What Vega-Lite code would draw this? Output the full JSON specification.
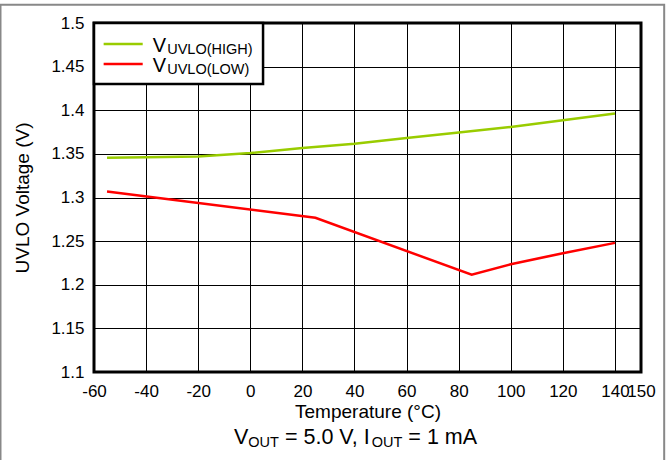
{
  "$schema": "https://vega.github.io/schema/vega-lite/v6.json",
  "width": 547,
  "height": 349,
  "autosize": {"type": "none"},
  "padding": {"left": 94, "top": 23, "right": 25, "bottom": 88},
  "background": "white",
  "config": {
    "view": {"stroke": "black", "strokeWidth": 3},
    "font": "Liberation Sans",
    "text": {"font": "Liberation Sans", "color": "black"}
  },
  "data": {
    "values": [
      {"series": "high", "t": -55, "v": 1.3456},
      {"series": "high", "t": -40, "v": 1.3462},
      {"series": "high", "t": -20, "v": 1.3471},
      {"series": "high", "t": 0, "v": 1.3509},
      {"series": "high", "t": 20, "v": 1.3567},
      {"series": "high", "t": 40, "v": 1.3617},
      {"series": "high", "t": 60, "v": 1.3682},
      {"series": "high", "t": 80, "v": 1.3744},
      {"series": "high", "t": 100, "v": 1.3808},
      {"series": "high", "t": 120, "v": 1.3885},
      {"series": "high", "t": 140, "v": 1.3962},
      {"series": "low", "t": -55, "v": 1.3069},
      {"series": "low", "t": 25, "v": 1.2767},
      {"series": "low", "t": 85, "v": 1.2115},
      {"series": "low", "t": 100, "v": 1.2235},
      {"series": "low", "t": 120, "v": 1.2362},
      {"series": "low", "t": 140, "v": 1.248}
    ]
  },
  "layer": [
    {
      "mark": {"type": "line", "strokeWidth": 2.5, "clip": false},
      "encoding": {
        "x": {
          "field": "t", "type": "quantitative",
          "scale": {"domain": [-60, 150], "nice": false, "zero": false},
          "axis": {
            "values": [-60, -40, -20, 0, 20, 40, 60, 80, 100, 120, 140, 150],
            "labelExpr": "toString(datum.value)",
            "grid": true, "gridColor": "#000", "gridWidth": 1, "gridOpacity": 1,
            "ticks": false, "domain": false,
            "labelFont": "Liberation Sans", "labelFontSize": 17, "labelColor": "black",
            "labelPadding": 11, "labelOverlap": false, "labelFlush": false,
            "title": "Temperature (°C)", "titleFont": "Liberation Sans", "titleFontSize": 19,
            "titleFontWeight": "normal", "titleColor": "black", "titlePadding": 3
          }
        },
        "y": {
          "field": "v", "type": "quantitative",
          "scale": {"domain": [1.1, 1.5], "nice": false, "zero": false},
          "axis": {
            "values": [1.1, 1.15, 1.2, 1.25, 1.3, 1.35, 1.4, 1.45, 1.5],
            "labelExpr": "toString(datum.value)",
            "grid": true, "gridColor": "#000", "gridWidth": 1, "gridOpacity": 1,
            "ticks": false, "domain": false,
            "labelFont": "Liberation Sans", "labelFontSize": 17, "labelColor": "black",
            "labelPadding": 10, "labelFlush": false,
            "title": "UVLO Voltage (V)", "titleFont": "Liberation Sans", "titleFontSize": 19,
            "titleFontWeight": "normal", "titleColor": "black", "titlePadding": 18
          }
        },
        "color": {
          "field": "series", "type": "nominal",
          "scale": {"domain": ["high", "low"], "range": ["#99CC00", "#FF0000"]},
          "legend": null
        }
      }
    },
    {
      "data": {"values": [{}]},
      "mark": {"type": "rect", "fill": null, "fillOpacity": 0, "stroke": "#888", "strokeWidth": 2, "clip": false},
      "encoding": {
        "x": {"datum": -95.9, "type": "quantitative"},
        "x2": {"datum": 158.9},
        "y": {"datum": 1.521, "type": "quantitative"},
        "y2": {"datum": 0.97}
      }
    },
    {
      "data": {"values": [{}]},
      "mark": {"type": "rect", "fill": "white", "stroke": "black", "strokeWidth": 2.5},
      "encoding": {
        "x": {"datum": -60, "type": "quantitative"},
        "x2": {"datum": 4.9},
        "y": {"datum": 1.5, "type": "quantitative"},
        "y2": {"datum": 1.43}
      }
    },
    {
      "data": {"values": [{}]},
      "mark": {"type": "rule", "stroke": "#99CC00", "strokeWidth": 2.5},
      "encoding": {
        "x": {"datum": -56.3, "type": "quantitative"},
        "x2": {"datum": -41.3},
        "y": {"datum": 1.4759, "type": "quantitative"}
      }
    },
    {
      "data": {"values": [{}]},
      "mark": {"type": "rule", "stroke": "#FF0000", "strokeWidth": 2.5},
      "encoding": {
        "x": {"datum": -56.3, "type": "quantitative"},
        "x2": {"datum": -41.3},
        "y": {"datum": 1.4529, "type": "quantitative"}
      }
    },
    {
      "data": {"values": [{}]},
      "mark": {"type": "text", "text": "V", "fontSize": 20, "align": "left", "baseline": "alphabetic"},
      "encoding": {"x": {"datum": -37.4, "type": "quantitative"}, "y": {"datum": 1.467, "type": "quantitative"}}
    },
    {
      "data": {"values": [{}]},
      "mark": {"type": "text", "text": "UVLO(HIGH)", "fontSize": 14.5, "align": "left", "baseline": "alphabetic"},
      "encoding": {"x": {"datum": -31.9, "type": "quantitative"}, "y": {"datum": 1.464, "type": "quantitative"}}
    },
    {
      "data": {"values": [{}]},
      "mark": {"type": "text", "text": "V", "fontSize": 20, "align": "left", "baseline": "alphabetic"},
      "encoding": {"x": {"datum": -37.4, "type": "quantitative"}, "y": {"datum": 1.444, "type": "quantitative"}}
    },
    {
      "data": {"values": [{}]},
      "mark": {"type": "text", "text": "UVLO(LOW)", "fontSize": 14.5, "align": "left", "baseline": "alphabetic"},
      "encoding": {"x": {"datum": -31.9, "type": "quantitative"}, "y": {"datum": 1.441, "type": "quantitative"}}
    },
    {
      "data": {"values": [{}]},
      "mark": {"type": "text", "text": "V", "fontSize": 21.5, "align": "left", "baseline": "alphabetic", "clip": false},
      "encoding": {"x": {"datum": -6.27, "type": "quantitative"}, "y": {"datum": 1.0172, "type": "quantitative"}}
    },
    {
      "data": {"values": [{}]},
      "mark": {"type": "text", "text": "OUT", "fontSize": 14.5, "align": "left", "baseline": "alphabetic", "clip": false},
      "encoding": {"x": {"datum": -0.77, "type": "quantitative"}, "y": {"datum": 1.0138, "type": "quantitative"}}
    },
    {
      "data": {"values": [{}]},
      "mark": {"type": "text", "text": "= 5.0 V, I", "fontSize": 21.5, "align": "left", "baseline": "alphabetic", "clip": false},
      "encoding": {"x": {"datum": 13.31, "type": "quantitative"}, "y": {"datum": 1.0172, "type": "quantitative"}}
    },
    {
      "data": {"values": [{}]},
      "mark": {"type": "text", "text": "OUT", "fontSize": 14.5, "align": "left", "baseline": "alphabetic", "clip": false},
      "encoding": {"x": {"datum": 46.62, "type": "quantitative"}, "y": {"datum": 1.0138, "type": "quantitative"}}
    },
    {
      "data": {"values": [{}]},
      "mark": {"type": "text", "text": "= 1 mA", "fontSize": 21.5, "align": "left", "baseline": "alphabetic", "clip": false},
      "encoding": {"x": {"datum": 60.69, "type": "quantitative"}, "y": {"datum": 1.0172, "type": "quantitative"}}
    }
  ]
}
